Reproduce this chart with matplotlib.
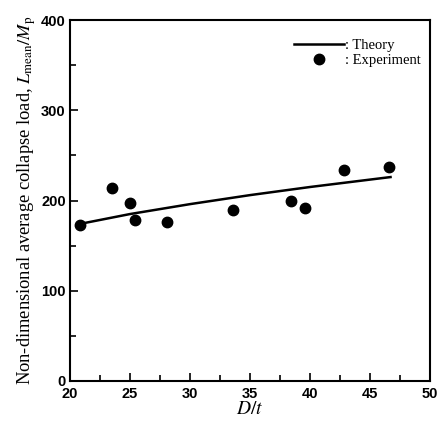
import numpy as np
import matplotlib.pyplot as plt
from matplotlib.ticker import MultipleLocator

plt.rcParams['font.family'] = 'Liberation Serif'
plt.rcParams['mathtext.fontset'] = 'stix'

# experimental points
dt_exp = [20.8, 23.5, 25.0, 25.4, 28.1, 33.6, 38.4, 39.6, 42.8, 46.6]
load_exp = [173, 214, 197, 178, 176, 189, 199, 192, 234, 237]

# theory curve
dt_th = [20.8, 25.0, 30.0, 35.0, 40.0, 46.7]
load_th = [174, 185, 196, 206, 215, 226]

fig = plt.figure(figsize=(4.43, 4.28), dpi=100)
ax = fig.add_axes([0.158, 0.110, 0.813, 0.843])

ax.plot(dt_th, load_th, color='black', lw=1.8, label=': Theory')
ax.plot(dt_exp, load_exp, 'o', color='black', ms=7.5, label=': Experiment')

ax.set_xlim(20, 50)
ax.set_ylim(0, 400)
ax.xaxis.set_major_locator(MultipleLocator(5))
ax.xaxis.set_minor_locator(MultipleLocator(2.5))
ax.yaxis.set_major_locator(MultipleLocator(100))
ax.yaxis.set_minor_locator(MultipleLocator(50))
ax.tick_params(which='both', direction='in', width=1.2)
ax.tick_params(which='major', length=6)
ax.tick_params(which='minor', length=4)
ax.tick_params(axis='x', pad=4.5)
ax.tick_params(axis='y', pad=3)
for s in ax.spines.values():
    s.set_linewidth(1.5)
for lab in ax.get_xticklabels() + ax.get_yticklabels():
    lab.set_family('Liberation Sans')
    lab.set_fontweight('bold')
    lab.set_fontsize(10.5)
# the "0" sits a little above the corner in the original
ax.get_yticklabels()[0].set_verticalalignment('bottom')

ax.set_xlabel(r'$D/t$', fontsize=14, labelpad=0)
ax.set_ylabel(r'Non-dimensional average collapse load, $L_{\mathrm{mean}}/M_{\mathrm{p}}$',
              fontsize=13.3, labelpad=2)

ax.legend(loc='upper right', bbox_to_anchor=(0.99, 0.965), frameon=False,
          fontsize=10.5, handlelength=3.4, handletextpad=0.1,
          borderaxespad=0.0, labelspacing=0.15)

plt.savefig('out.png', dpi=100)
